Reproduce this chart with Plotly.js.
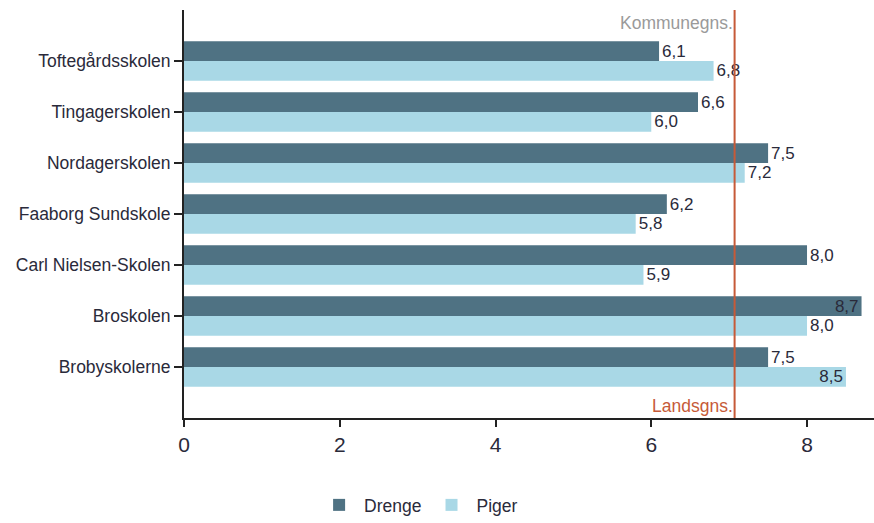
<!DOCTYPE html>
<html>
<head>
<meta charset="utf-8">
<script src="https://cdn.plot.ly/plotly-3.0.1.min.js"></script>
<style>html,body{margin:0;padding:0;background:#fff}#chart{width:874px;height:523px}</style>
</head>
<body>
<div id="chart"></div>
<script>
const schools = ["Toftegårdsskolen","Tingagerskolen","Nordagerskolen","Faaborg Sundskole","Carl Nielsen-Skolen","Broskolen","Brobyskolerne"];
const drenge = [6.1, 6.6, 7.5, 6.2, 8.0, 8.7, 7.5];
const piger = [6.8, 6.0, 7.2, 5.8, 5.9, 8.0, 8.5];
const landsgns = 7.07;
const xTicks = [0, 2, 4, 6, 8];
const seriesNames = ["Drenge", "Piger"];

const fmt = v => v.toFixed(1).replace('.', ',');
const XMAX = 8.86;
const pos = arr => arr.map(v => v >= 8.4 ? 'inside' : 'outside');

const textFont = {family: 'Arial, "Liberation Sans", sans-serif', size: 17, color: '#2a2a3a'};

const traces = [
  {type: 'bar', orientation: 'h', name: seriesNames[0], y: schools, x: drenge,
   marker: {color: '#4f7283', line: {width: 0}},
   text: drenge.map(fmt), textposition: pos(drenge), insidetextanchor: 'end', constraintext: 'none',
   textfont: textFont, insidetextfont: textFont, outsidetextfont: textFont,
   cliponaxis: false, hoverinfo: 'x+y'},
  {type: 'bar', orientation: 'h', name: seriesNames[1], y: schools, x: piger,
   marker: {color: '#a9d8e6', line: {width: 0}},
   text: piger.map(fmt), textposition: pos(piger), insidetextanchor: 'end', constraintext: 'none',
   textfont: textFont, insidetextfont: textFont, outsidetextfont: textFont,
   cliponaxis: false, hoverinfo: 'x+y'}
];

const layout = {
  width: 874, height: 523,
  margin: {l: 184, r: 0, t: 10, b: 104},
  paper_bgcolor: '#fff', plot_bgcolor: '#fff',
  barmode: 'group', bargap: 0.23, bargroupgap: 0,
  font: {family: 'Arial, "Liberation Sans", sans-serif', size: 16, color: '#2a2a3a'},
  xaxis: {range: [0, XMAX], tickvals: xTicks, ticktext: xTicks.map(String),
    showgrid: false, zeroline: false, showline: true, linecolor: '#222', linewidth: 2,
    ticks: 'outside', ticklen: 7, tickcolor: '#222', tickwidth: 2,
    tickfont: {size: 21, color: '#2a2a3a'}, fixedrange: true},
  yaxis: {range: [7, -1], showgrid: false, zeroline: false, showline: true,
    linecolor: '#222', linewidth: 2, ticks: 'outside', ticklen: 8, tickcolor: '#222', tickwidth: 2,
    tickfont: {size: 17.5, color: '#2a2a3a'}, fixedrange: true},
  shapes: [
    {type: 'line', xref: 'x', yref: 'paper', x0: landsgns, x1: landsgns, y0: 0, y1: 1,
     line: {color: '#c65a38', width: 2}}
  ],
  annotations: [
    {text: 'Kommunegns.', xref: 'x', yref: 'paper', x: landsgns, y: 1, xanchor: 'right', yanchor: 'top',
     yshift: -1, showarrow: false, font: {size: 17.5, color: '#9a9a9a'}},
    {text: 'Landsgns.', xref: 'x', yref: 'paper', x: landsgns, y: 0, xanchor: 'right', yanchor: 'bottom',
     yshift: 0, showarrow: false, font: {size: 17.5, color: '#c65a38'}}
  ],
  showlegend: true,
  legend: {orientation: 'h', x: 0.34, xref: 'paper', xanchor: 'center', y: -0.17, yanchor: 'top',
    font: {size: 17.5, color: '#2a2a3a'}, itemwidth: 40, traceorder: 'normal'}
};

Plotly.newPlot('chart', traces, layout, {displayModeBar: false, staticPlot: true});
</script>
</body>
</html>
